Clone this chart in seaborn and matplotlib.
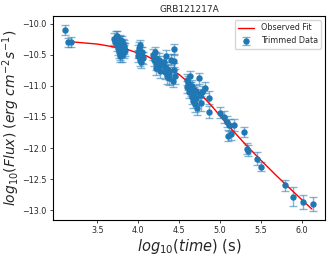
import numpy as np
import seaborn as sns
import matplotlib
matplotlib.use('Agg')
import matplotlib.pyplot as plt

title = 'GRB121217A'

# Trimmed data: log10(time), log10(flux), error
log_t = [3.11, 3.14, 3.18,
         3.70, 3.72, 3.73, 3.74, 3.75, 3.75, 3.76, 3.76, 3.77, 3.77, 3.78, 3.78, 3.79,
         3.79, 3.80, 3.80, 3.81, 3.81, 3.82, 3.82, 3.83, 3.84, 3.74, 3.78, 3.80, 3.76,
         3.99, 4.00, 4.01, 4.02, 4.02, 4.03, 4.03, 4.04, 4.05, 4.06,
         4.18, 4.19, 4.20, 4.21, 4.22, 4.22, 4.23, 4.24, 4.25, 4.26, 4.27,
         4.31, 4.32, 4.33, 4.34, 4.35, 4.36, 4.37, 4.38, 4.40, 4.42, 4.43, 4.44, 4.44, 4.45,
         4.59, 4.60, 4.61, 4.62, 4.63, 4.64, 4.65, 4.66, 4.67, 4.68, 4.69, 4.70, 4.71, 4.72,
         4.74, 4.75, 4.76, 4.78, 4.82, 4.86, 4.86,
         5.00, 5.05, 5.08, 5.11, 5.13, 5.17, 5.10, 5.29, 5.33, 5.34, 5.45, 5.50,
         5.79, 5.89, 6.01, 6.13]
log_flux = [-10.11, -10.30, -10.29,
            -10.25, -10.30, -10.22, -10.35, -10.28, -10.40, -10.32, -10.45, -10.26, -10.38, -10.30, -10.48, -10.35,
            -10.42, -10.28, -10.50, -10.38, -10.33, -10.45, -10.36, -10.40, -10.42, -10.20, -10.52, -10.44, -10.36,
            -10.45, -10.52, -10.40, -10.58, -10.35, -10.48, -10.62, -10.54, -10.45, -10.55,
            -10.50, -10.58, -10.45, -10.65, -10.55, -10.72, -10.62, -10.68, -10.58, -10.76, -10.66,
            -10.62, -10.70, -10.78, -10.52, -10.85, -10.74, -10.88, -10.80, -10.58, -10.92, -10.41, -10.60, -10.75, -10.85,
            -10.90, -11.02, -10.95, -11.10, -10.85, -11.05, -11.18, -11.00, -11.25, -11.12, -11.30, -11.08, -11.20, -11.35,
            -10.88, -11.15, -11.28, -11.10, -11.03, -11.19, -11.42,
            -11.43, -11.50, -11.58, -11.63, -11.77, -11.63, -11.80, -11.74, -12.01, -12.04, -12.17, -12.30,
            -12.60, -12.78, -12.87, -12.90]
flux_err = [0.08, 0.07, 0.08,
            0.09, 0.08, 0.10, 0.09, 0.08, 0.10, 0.09, 0.10, 0.08, 0.09, 0.10, 0.11, 0.09,
            0.10, 0.08, 0.12, 0.09, 0.08, 0.10, 0.09, 0.09, 0.10, 0.08, 0.10, 0.09, 0.08,
            0.10, 0.09, 0.10, 0.11, 0.09, 0.10, 0.10, 0.09, 0.08, 0.10,
            0.09, 0.10, 0.08, 0.10, 0.09, 0.11, 0.10, 0.09, 0.10, 0.11, 0.09,
            0.10, 0.09, 0.11, 0.10, 0.12, 0.09, 0.11, 0.10, 0.09, 0.10, 0.08, 0.10, 0.11, 0.12,
            0.09, 0.10, 0.11, 0.10, 0.09, 0.11, 0.12, 0.10, 0.11, 0.10, 0.12, 0.10, 0.11, 0.12,
            0.09, 0.10, 0.12, 0.10, 0.09, 0.10, 0.10,
            0.09, 0.10, 0.09, 0.10, 0.10, 0.09, 0.09, 0.08, 0.09, 0.09, 0.11, 0.07,
            0.09, 0.15, 0.11, 0.11]

# Observed fit, sampled along the red curve
fit_t = [3.15, 3.50, 3.85, 4.10, 4.30, 4.50, 4.70, 4.90, 5.10, 5.30, 5.50, 5.70, 5.90, 6.12]
fit_flux = [-10.29, -10.33, -10.41, -10.52, -10.66, -10.82, -11.05, -11.33, -11.64, -11.93, -12.20,
            -12.46, -12.71, -12.98]

sns.set_style('white')
fig = plt.figure(figsize=(3.32, 2.56), dpi=100)
ax = fig.add_axes([0.16, 0.14, 0.819, 0.797])

blue = '#1f77b4'
ax.errorbar(log_t, log_flux, yerr=flux_err, fmt='o', color=blue, markersize=3.6,
            ecolor=(0.12, 0.47, 0.71, 0.55), elinewidth=1, capsize=3, label='Trimmed Data')
sns.lineplot(x=fit_t, y=fit_flux, color='red', linewidth=1, ax=ax, label='Observed Fit')

ax.set_title(title, fontsize=6.5, pad=3)
ax.set_xlabel(r'$log_{10}(time)$ (s)', fontsize=10.5, labelpad=1)
ax.set_ylabel(r'$log_{10}(Flux)$ $(erg\ cm^{-2}s^{-1})$', fontsize=10, labelpad=0)
ax.set_xticks([3.5, 4.0, 4.5, 5.0, 5.5, 6.0])
ax.set_yticks([-10.0, -10.5, -11.0, -11.5, -12.0, -12.5, -13.0])
ax.tick_params(labelsize=5.8, length=2.5, width=0.6, pad=2, bottom=True, left=True)
for s in ax.spines.values():
    s.set_color('black')
    s.set_linewidth(0.8)

ax.legend(loc='upper right', fontsize=5.8, frameon=True)

fig.savefig('out.png', dpi=100)
